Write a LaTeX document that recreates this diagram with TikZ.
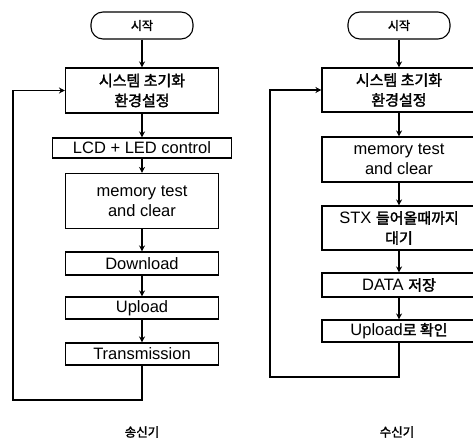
\documentclass[tikz,border=0pt]{standalone}
\usepackage{fontspec}
\setmainfont{Liberation Sans}
\newfontfamily\kr[FakeBold=2]{Noto Sans CJK KR}
\usetikzlibrary{arrows.meta}
\newcommand{\hg}[1]{{\kr #1}}

\begin{document}
\begin{tikzpicture}[x=1pt,y=-1pt,
		blk/.style={draw,line width=1.1pt,minimum width=153pt,inner sep=0pt,align=center,
			font=\fontsize{16.5}{20}\selectfont},
		term/.style={draw,line width=1.1pt,rounded corners=12pt,minimum width=102pt,
			minimum height=27pt,inner sep=0pt,font=\fontsize{12}{14}\selectfont},
		capt/.style={inner sep=0pt,font=\fontsize{12.5}{14}\selectfont},
		flow/.style={line width=1.8pt,-{Stealth[length=6pt,width=6pt]}}]
	\useasboundingbox (0,0) rectangle (473,441);
	\clip (0,0) rectangle (473,441);
	% sender
	\node[term] (s1) at (142,25.5) {\hg{시작}};
	\node[blk,minimum height=45pt] (i1) at (142,90.5) {\hg{\fontsize{15}{20}\selectfont 시스템 초기화}\\\hg{\fontsize{15}{20}\selectfont 환경설정}};
	\node[blk,minimum width=179pt,minimum height=20pt] (lcd) at (142,148) {LCD + LED control};
	\node[blk,minimum height=55pt] (m1) at (142,201) {memory test\\and clear};
	\node[blk,minimum height=23pt] (dn) at (142,263.5) {Download};
	\node[blk,minimum height=22pt] (up) at (142,308) {Upload};
	\node[blk,minimum height=22pt] (tx) at (142,354) {Transmission};
	\coordinate (l1) at (13,400);
	\node[capt] (c1) at (142,432) {\hg{송신기}};
	% receiver
	\node[term] (s2) at (399,25.5) {\hg{시작}};
	\node[blk,minimum width=154pt,minimum height=44pt] (i2) at (399,90) {\hg{\fontsize{15}{20}\selectfont 시스템 초기화}\\\hg{\fontsize{15}{20}\selectfont 환경설정}};
	\node[blk,minimum width=154pt,minimum height=45pt] (m2) at (399,159.5) {memory test\\and clear};
	\node[blk,minimum width=154pt,minimum height=44pt] (stx) at (399,228) {STX \hg{\fontsize{15}{20}\selectfont 들어올때까지}\\\hg{\fontsize{15}{20}\selectfont 대기}};
	\node[blk,minimum width=154pt,minimum height=24pt] (dat) at (399,285) {DATA \hg{\fontsize{15}{20}\selectfont 저장}};
	\node[blk,minimum width=154pt,minimum height=22pt] (chk) at (399,331) {Upload\hg{\fontsize{15}{20}\selectfont 로 확인}};
	\coordinate (l2) at (270,377);
	\node[capt] (c2) at (397,432) {\hg{수신기}};

	\foreach \a/\b in {s1/i1,i1/lcd,lcd/m1,m1/dn,dn/up,up/tx,s2/i2,i2/m2,m2/stx,stx/dat,dat/chk}
		\draw[flow] (\a) -- (\b);
	\draw[flow] (tx.south) |- (l1) |- (i1.west);
	\draw[flow] (chk.south) |- (l2) |- (i2.west);
\end{tikzpicture}
\end{document}
